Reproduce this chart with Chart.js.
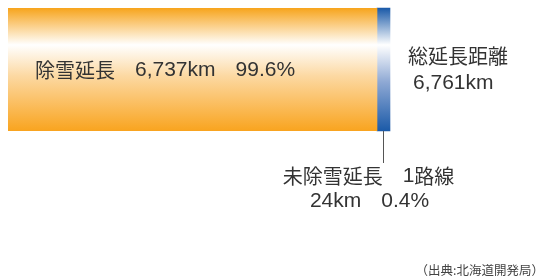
<!DOCTYPE html>
<html>
<head>
<meta charset="utf-8">
<script src="https://cdn.jsdelivr.net/npm/chart.js@4"></script>
<style>
  html, body { margin: 0; padding: 0; background: #fff; }
  #wrap { width: 547px; height: 280px; position: relative; }
</style>
</head>
<body>
<div id="wrap"><canvas id="c" width="547" height="280"></canvas></div>
<script>
// 除雪延長 vs 未除雪延長 (km)
const categories = ['道路延長'];
const clearedKm = [6737];
const unclearedKm = [24];
const totalKm = 6761;
const clearedPct = ['99.6%'];
const unclearedPct = ['0.4%'];
const unclearedRoutes = 1;

const JP = '20px "Noto Sans CJK JP", sans-serif';
const NUM = '21px "Liberation Sans", "Noto Sans CJK JP", sans-serif';
const TXT = '#333333';

function vGrad(chart, stops) {
    const { ctx, chartArea } = chart;
    if (!chartArea) return stops[0][1];
    const g = ctx.createLinearGradient(0, chartArea.top, 0, chartArea.bottom);
    stops.forEach(([p, c]) => g.addColorStop(p, c));
    return g;
}

const fmt = n => n.toLocaleString('en-US');

// draw a line made of [text, font] runs; align 'left' or 'center'
function drawRuns(ctx, runs, x, y, align) {
    let w = 0;
    runs.forEach(([t, f]) => { ctx.font = f; w += ctx.measureText(t).width; });
    let cx = align === 'center' ? x - w / 2 : x;
    ctx.textAlign = 'left';
    runs.forEach(([t, f]) => { ctx.font = f; ctx.fillText(t, cx, y); cx += ctx.measureText(t).width; });
}

const labelPlugin = {
    id: 'barTexts',
    afterDraw: (chart) => {
        const { ctx, chartArea } = chart;
        const orange = chart.getDatasetMeta(0).data[0];
        const blue = chart.getDatasetMeta(1).data[0];
        ctx.save();
        ctx.fillStyle = TXT;
        ctx.textBaseline = 'middle';
        drawRuns(ctx, [['除雪延長　', JP], [fmt(clearedKm[0]) + 'km', NUM], ['　', JP], [clearedPct[0], NUM]],
            chartArea.left + 27, orange.y + 1, 'left');

        // total
        const bx = blue.x;
        drawRuns(ctx, [['総延長距離', JP]], bx + 18, 56, 'left');
        drawRuns(ctx, [[fmt(totalKm) + 'km', NUM]], bx + 23, 83, 'left');

        // leader line
        const lx = Math.round((blue.base + blue.x) / 2) + 0.5;
        ctx.strokeStyle = '#555';
        ctx.lineWidth = 1;
        ctx.beginPath();
        ctx.moveTo(lx, orange.y + orange.height / 2);
        ctx.lineTo(lx, orange.y + orange.height / 2 + 32);
        ctx.stroke();

        ctx.fillStyle = TXT;
        drawRuns(ctx, [['未除雪延長　', JP], [String(unclearedRoutes), NUM], ['路線', JP]], lx - 15, 176, 'center');
        drawRuns(ctx, [[unclearedKm[0] + 'km', NUM], ['　', JP], [unclearedPct[0], NUM]], lx - 14, 201, 'center');

        ctx.textAlign = 'right';
        ctx.font = '12.5px "Noto Sans CJK JP", sans-serif';
        ctx.fillStyle = '#444';
        ctx.fillText('（出典:北海道開発局）', 544, 270);
        ctx.restore();
    }
};

new Chart(document.getElementById('c'), {
    type: 'bar',
    data: {
        labels: categories,
        datasets: [
            {
                label: '除雪延長',
                data: clearedKm,
                backgroundColor: (c) => vGrad(c.chart, [[0, '#f7a41c'], [0.3, '#ffffff'], [0.55, '#fcd9a3'], [1, '#f9a41f']]),
                borderWidth: 0,
                barPercentage: 1,
                categoryPercentage: 1
            },
            {
                label: '未除雪延長',
                data: unclearedKm,
                backgroundColor: (c) => vGrad(c.chart, [[0, '#1a59a8'], [0.3, '#ffffff'], [0.6, '#8fa9d4'], [1, '#1b5aa8']]),
                borderWidth: 0,
                barPercentage: 1,
                categoryPercentage: 1,
                minBarLength: 13,
                clip: false
            }
        ]
    },
    options: {
        indexAxis: 'y',
        responsive: false,
        animation: false,
        layout: { padding: { left: 8, right: 168.7, top: 8, bottom: 149 } },
        scales: {
            x: { stacked: true, min: 0, max: totalKm, display: false },
            y: { stacked: true, display: false }
        },
        plugins: { legend: { display: false }, tooltip: { enabled: false } }
    },
    plugins: [labelPlugin]
});
</script>
</body>
</html>
